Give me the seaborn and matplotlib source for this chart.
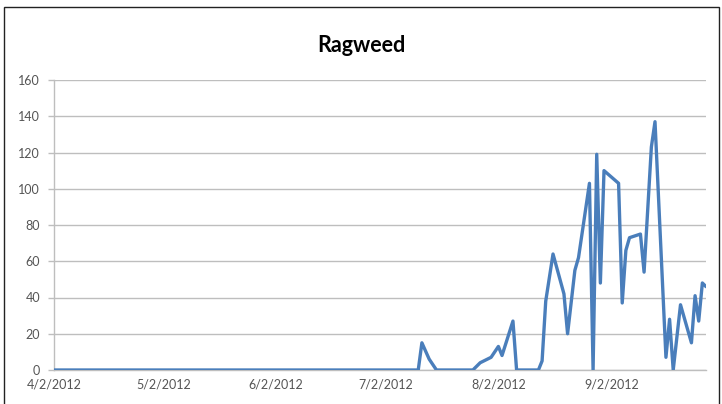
import matplotlib
matplotlib.use("Agg")
import matplotlib.pyplot as plt
import matplotlib.dates as mdates
from matplotlib.patches import Rectangle
import seaborn as sns
import pandas as pd

# Daily ragweed pollen counts, 2012 season
dates = ["2012-04-02", "2012-07-11", "2012-07-12", "2012-07-14", "2012-07-16",
         "2012-07-26", "2012-07-28", "2012-07-31", "2012-08-02", "2012-08-03",
         "2012-08-06", "2012-08-07", "2012-08-13", "2012-08-14", "2012-08-15",
         "2012-08-17", "2012-08-20", "2012-08-21", "2012-08-23", "2012-08-24",
         "2012-08-27", "2012-08-28", "2012-08-29", "2012-08-30", "2012-08-31",
         "2012-09-04", "2012-09-05", "2012-09-06", "2012-09-07", "2012-09-10",
         "2012-09-11", "2012-09-13", "2012-09-14", "2012-09-17", "2012-09-18",
         "2012-09-19", "2012-09-21", "2012-09-24", "2012-09-25", "2012-09-26",
         "2012-09-27", "2012-09-28"]
counts = [0, 0, 15, 6, 0, 0, 4, 7, 13, 8,
          27, 0, 0, 5, 38, 64, 42, 20, 55, 62,
          103, 0, 119, 48, 110, 103, 37, 66, 73, 75,
          54, 123, 137, 7, 28, 0, 36, 15, 41, 27,
          48, 46]

tick_dates = ["2012-04-02", "2012-05-02", "2012-06-02", "2012-07-02",
              "2012-08-02", "2012-09-02"]
tick_labels = ["4/2/2012", "5/2/2012", "6/2/2012", "7/2/2012",
               "8/2/2012", "9/2/2012"]
y_ticks = [0, 20, 40, 60, 80, 100, 120, 140, 160]

df = pd.DataFrame({"date": pd.to_datetime(dates), "count": counts})

sns.set_theme(style="white")
plt.rcParams["font.family"] = ["Lato", "DejaVu Sans"]

fig = plt.figure(figsize=(7.22, 4.04), dpi=100)
ax = fig.add_axes([54 / 722, 1 - 370 / 404, (706 - 54) / 722, (370 - 80) / 404])

sns.lineplot(data=df, x="date", y="count", ax=ax, color="#4A7EBB",
             linewidth=2.4, zorder=3)

ax.set_xlim(pd.Timestamp("2012-04-02"), pd.Timestamp("2012-09-28"))
ax.set_ylim(0, 160)
ax.set_yticks(y_ticks)
ax.set_yticklabels([str(v) for v in y_ticks])
ax.set_xticks(mdates.date2num(pd.to_datetime(tick_dates)))
ax.set_xticklabels(tick_labels)
ax.set_xlabel("")
ax.set_ylabel("")

ax.grid(axis="y", color="#BEBEBE", linewidth=1.0, zorder=0)
ax.grid(axis="x", visible=False)
for side in ["top", "right"]:
    ax.spines[side].set_visible(False)
ax.spines["left"].set_color("#BEBEBE")
ax.spines["bottom"].set_color("#BEBEBE")
ax.spines["left"].set_linewidth(1.0)
ax.spines["bottom"].set_linewidth(1.0)

ax.tick_params(axis="y", length=4, width=1.0, color="#BEBEBE",
               labelsize=9, labelcolor="#555555", pad=6, left=True)
ax.tick_params(axis="x", length=0, labelsize=9, labelcolor="#555555", pad=6)

fig.text(0.5, 1 - 45 / 404, "Ragweed", ha="center", va="center",
         fontsize=15.5, fontweight="bold", color="#000000")

# outer frame of the chart
fig.patches.append(Rectangle((4 / 722, -0.05), 715 / 722, 1.05 - 7 / 404,
                             transform=fig.transFigure, fill=False,
                             edgecolor="#222222", linewidth=1.0))

fig.savefig("out.png", dpi=100)
